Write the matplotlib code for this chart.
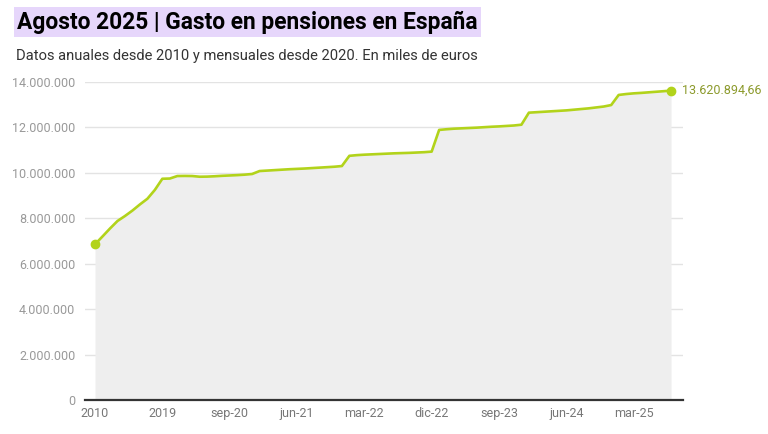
import matplotlib
matplotlib.use('Agg')
import matplotlib.pyplot as plt
from matplotlib.ticker import FuncFormatter

plt.rcParams['font.family'] = ['Roboto', 'DejaVu Sans']

# Datos: anuales 2010-2019, mensuales desde ene-20 (miles de euros)
anios = [str(a) for a in range(2010, 2020)]
meses = ['ene', 'feb', 'mar', 'abr', 'may', 'jun', 'jul', 'ago', 'sep', 'oct', 'nov', 'dic']

gasto_anual = [6856000, 7200000, 7550000, 7880000, 8100000, 8340000, 8610000, 8860000, 9250000, 9740000]
gasto_2020 = [9750000, 9860000, 9865000, 9860000, 9830000, 9835000, 9850000, 9870000, 9885000, 9900000, 9920000, 9950000]
gasto_2021 = [10080000, 10100000, 10120000, 10140000, 10160000, 10175000, 10190000, 10210000, 10230000, 10250000, 10270000, 10300000]
gasto_2022 = [10750000, 10780000, 10800000, 10815000, 10830000, 10845000, 10860000, 10870000, 10880000, 10895000, 10910000, 10935000]
gasto_2023 = [11890000, 11920000, 11945000, 11960000, 11975000, 11990000, 12010000, 12030000, 12045000, 12065000, 12085000, 12120000]
gasto_2024 = [12650000, 12670000, 12690000, 12710000, 12730000, 12750000, 12780000, 12810000, 12840000, 12880000, 12920000, 12985000]
gasto_2025 = [13430000, 13470000, 13500000, 13520000, 13545000, 13570000, 13595000, 13620894.66]

etiquetas = list(anios)
for yy, serie in zip(range(20, 26), [gasto_2020, gasto_2021, gasto_2022, gasto_2023, gasto_2024, gasto_2025]):
    etiquetas += ['%s-%d' % (m, yy) for m in meses[:len(serie)]]
valores = gasto_anual + gasto_2020 + gasto_2021 + gasto_2022 + gasto_2023 + gasto_2024 + gasto_2025
x = list(range(len(valores)))

verde = '#b2d31b'

fig = plt.figure(figsize=(7.68, 4.34), dpi=100)
ax = fig.add_axes([85/768, 34/434, 598/768, 318/434])

ax.fill_between(x, 0, valores, color='#eeeeee', lw=0, zorder=1)
ax.plot(x, valores, color=verde, lw=1.9, zorder=3, solid_capstyle='round')
ax.plot([x[0], x[-1]], [valores[0], valores[-1]], 'o', color=verde, ms=6, zorder=4)

ax.set_xlim(-1.34, len(valores) - 1 + 1.6)
ax.set_ylim(0, 14000000)
ax.set_yticks(range(0, 14000001, 2000000))
ax.yaxis.set_major_formatter(FuncFormatter(lambda v, p: '{:,.0f}'.format(v).replace(',', '.')))
ax.grid(axis='y', color='#e3e3e3', lw=1, zorder=0)
ax.set_axisbelow(True)

ticks = x[::9]
ax.set_xticks(ticks)
ax.set_xticklabels([etiquetas[i] for i in ticks])

for s in ['top', 'right', 'left']:
    ax.spines[s].set_visible(False)
ax.spines['bottom'].set_color('#333333')
ax.spines['bottom'].set_linewidth(1.6)
ax.spines['bottom'].set_zorder(5)
ax.tick_params(axis='y', length=0, pad=7, labelsize=9, labelcolor='#999999')
ax.tick_params(axis='x', length=0, pad=5, labelsize=9, labelcolor='#777777')

ult = '{:,.2f}'.format(valores[-1]).replace(',', 'X').replace('.', ',').replace('X', '.')
ax.annotate(ult, (x[-1], valores[-1]), xytext=(8, 0), textcoords='offset points',
            va='center', ha='left', fontsize=9, color='#8c9a2c')

fig.text(17/768, 1 - 22/434, 'Agosto 2025 | Gasto en pensiones en España', fontsize=16.4,
         fontweight='bold', color='black', va='center', ha='left',
         bbox=dict(facecolor='#e6d6fb', edgecolor='none', pad=2.5))
fig.text(16/768, 1 - 56/434, 'Datos anuales desde 2010 y mensuales desde 2020. En miles de euros',
         fontsize=10.6, color='#333333', va='center', ha='left')

fig.savefig('out.png', dpi=100)
